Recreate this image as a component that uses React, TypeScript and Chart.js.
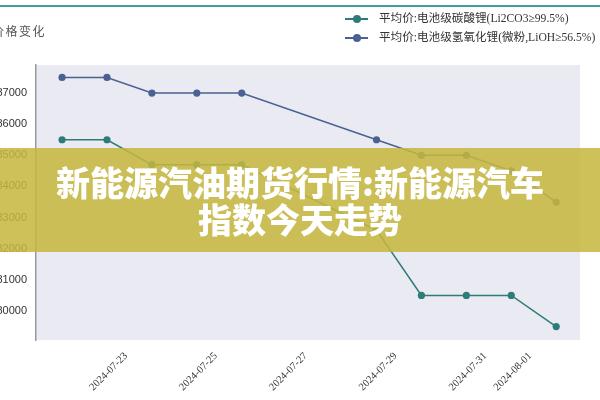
import React, { useEffect, useRef } from 'react';
import { Chart, registerables } from 'chart.js';

Chart.register(...registerables);

// ---- data ----
const DATES = ['2024-07-22', '2024-07-23', '2024-07-24', '2024-07-25', '2024-07-26', '2024-07-29', '2024-07-30', '2024-07-31', '2024-08-01', '2024-08-02'];
const LI2CO3 = [85500, 85500, 84700, 84700, 84700, 82600, 80500, 80500, 80500, 79500];
const LIOH = [87500, 87500, 87000, 87000, 87000, 85500, 85000, 85000, 84500, 83500];
const TICK_DATES = ['2024-07-23', '2024-07-25', '2024-07-27', '2024-07-29', '2024-07-31', '2024-08-01'];
const Y_TICKS = [80000, 81000, 82000, 83000, 84000, 85000, 86000, 87000];
const SERIES_NAMES = ['平均价:电池级碳酸锂(Li2CO3≥99.5%)', '平均价:电池级氢氧化锂(微粉,LiOH≥56.5%)'];
const SERIES_COLORS = ['#2e7b7a', '#4a6192'];
const TITLE = '碳酸锂价格变化';
const BANNER_LINES = ['新能源汽油期货行情:新能源汽车', '指数今天走势'];

const DAY = 86400000;
const ORIGIN = Date.parse(DATES[0]);
const toDay = (d: string) => (Date.parse(d) - ORIGIN) / DAY;
const fmtDay = (v: number) => new Date(ORIGIN + Math.round(v) * DAY).toISOString().slice(0, 10);

const bgPlugin = {
  id: 'plotBg',
  beforeDraw(chart: any) {
    const { ctx, chartArea } = chart;
    if (!chartArea) return;
    ctx.save();
    ctx.fillStyle = '#eaeaf2';
    ctx.fillRect(chartArea.left, chartArea.top, chartArea.right - chartArea.left, chartArea.bottom - chartArea.top);
    ctx.restore();
  },
};

export default function App() {
  const ref = useRef<HTMLCanvasElement | null>(null);

  useEffect(() => {
    if (!ref.current) return;
    const series = [LI2CO3, LIOH];
    const chart = new Chart(ref.current, {
      type: 'line',
      data: {
        datasets: series.map((vals, k) => ({
          label: SERIES_NAMES[k],
          data: DATES.map((d, i) => ({ x: toDay(d), y: vals[i] })),
          borderColor: SERIES_COLORS[k],
          backgroundColor: SERIES_COLORS[k],
          pointBackgroundColor: SERIES_COLORS[k],
          pointBorderWidth: 0,
          pointRadius: 3.6,
          borderWidth: 1.5,
          tension: 0,
        })),
      },
      options: {
        animation: false,
        responsive: false,
        layout: { padding: { top: 65, right: 20, left: 0, bottom: 0 } },
        plugins: {
          legend: { display: false },
          title: { display: false },
          tooltip: { enabled: false },
        },
        scales: {
          x: {
            type: 'linear',
            min: -0.58,
            max: 11.53,
            grid: { display: false, drawTicks: false },
            border: { display: false },
            afterBuildTicks: (s: any) => {
              s.ticks = TICK_DATES.map((d) => ({ value: toDay(d) }));
            },
            afterFit: (s: any) => {
              s.height = 60;
            },
            ticks: {
              autoSkip: false,
              minRotation: 45,
              maxRotation: 45,
              labelOffset: 19,
              padding: 10,
              color: '#333',
              font: { family: 'Liberation Serif', size: 10.5 },
              callback: (v: any) => fmtDay(Number(v)),
            },
          },
          y: {
            type: 'linear',
            min: 79070,
            max: 87900,
            grid: { display: false, drawTicks: false },
            border: { display: true, color: '#999', width: 1.5 },
            afterBuildTicks: (s: any) => {
              s.ticks = Y_TICKS.map((v) => ({ value: v }));
            },
            afterFit: (s: any) => {
              s.width = 36;
            },
            ticks: {
              padding: 9,
              color: '#333',
              font: { family: 'Liberation Sans', size: 11 },
              callback: (v: any) => String(v),
            },
          },
        },
      } as any,
      plugins: [bgPlugin],
    });
    return () => chart.destroy();
  }, []);

  return (
    <div style={{ position: 'fixed', left: 0, top: 0, width: 600, height: 400, overflow: 'hidden', background: '#fff' }}>
      <canvas ref={ref} width={600} height={400} style={{ position: 'absolute', left: 0, top: 0, width: 600, height: 400 }} />
      <div style={{ position: 'absolute', left: 0, top: 5, width: 600, height: 2, background: '#3f9ea1' }} />
      <div
        style={{
          position: 'absolute',
          right: 554,
          top: 22,
          whiteSpace: 'nowrap',
          fontSize: 12,
          letterSpacing: 1.5,
          color: '#555',
          fontFamily: "'Noto Sans CJK SC', sans-serif",
          lineHeight: '18px',
        }}
      >
        {TITLE}
      </div>
      {SERIES_NAMES.map((name, k) => (
        <div key={k} style={{ position: 'absolute', left: 345, top: 11 + k * 19, height: 16, whiteSpace: 'nowrap' }}>
          <div style={{ position: 'absolute', left: 0, top: 7, width: 23, height: 2, background: SERIES_COLORS[k] }} />
          <div style={{ position: 'absolute', left: 8, top: 4, width: 8, height: 8, borderRadius: 4, background: SERIES_COLORS[k] }} />
          <div
            style={{
              position: 'absolute',
              left: 34,
              top: 0,
              fontSize: 11.6,
              lineHeight: '16px',
              color: '#333',
              fontFamily: "'Liberation Serif', 'Noto Sans CJK SC', serif",
            }}
          >
            {name}
          </div>
        </div>
      ))}
      <div
        style={{
          position: 'absolute',
          left: 0,
          top: 148,
          width: 600,
          height: 104,
          background: 'rgba(198, 183, 62, 0.86)',
          display: 'flex',
          flexDirection: 'column',
          alignItems: 'center',
          justifyContent: 'center',
          color: '#fff',
          fontFamily: "'Noto Sans CJK SC', sans-serif",
          fontWeight: 900,
          fontSize: 34,
          lineHeight: '37px',
        }}
      >
        {BANNER_LINES.map((l, i) => (
          <div key={i}>{l}</div>
        ))}
      </div>
    </div>
  );
}
